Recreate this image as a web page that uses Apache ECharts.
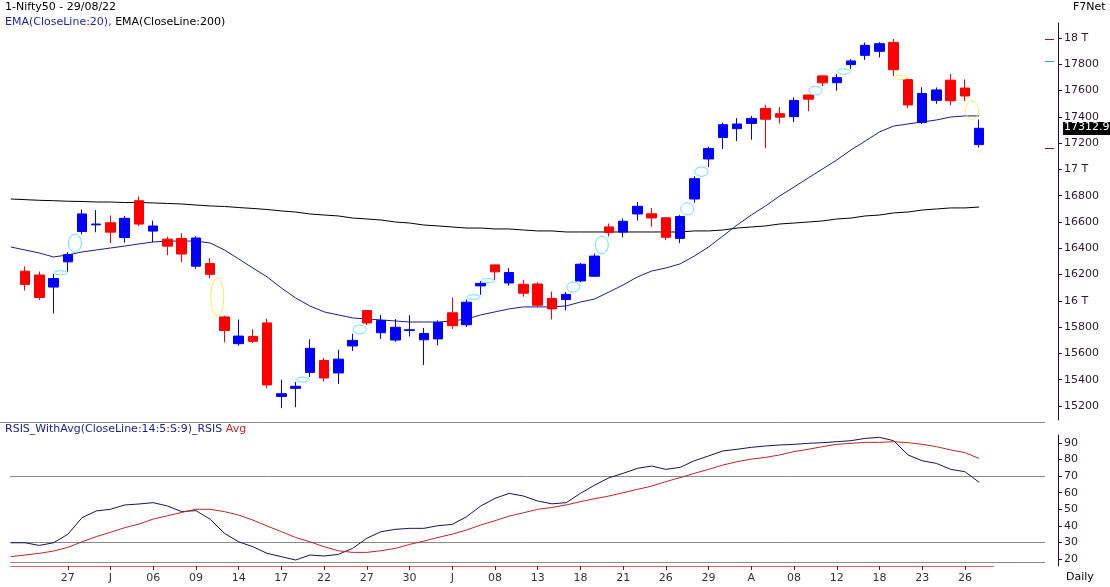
<!DOCTYPE html>
<html><head><meta charset="utf-8">
<script src="https://cdn.jsdelivr.net/npm/echarts@6/dist/echarts.min.js"></script>
<style>html,body{margin:0;padding:0;background:#fff;}#c{width:1110px;height:587px;}</style>
</head><body><div id="c"></div>
<script>
const dates = ['23/05','24/05','25/05','26/05','27/05','30/05','31/05','01/06','02/06','03/06','06/06','07/06','08/06','09/06','10/06','13/06','14/06','15/06','16/06','17/06','20/06','21/06','22/06','23/06','24/06','27/06','28/06','29/06','30/06','01/07','04/07','05/07','06/07','07/07','08/07','11/07','12/07','13/07','14/07','15/07','18/07','19/07','20/07','21/07','22/07','25/07','26/07','27/07','28/07','29/07','01/08','02/08','03/08','04/08','05/08','08/08','10/08','11/08','12/08','16/08','17/08','18/08','19/08','22/08','23/08','24/08','25/08','26/08','29/08',''];
const opens = [null,16225.55,16196.35,16105.0,16296.6,16527.9,16578.45,16594.4,16481.65,16761.65,16530.7,16469.6,16474.95,16263.85,16283.95,15877.55,15674.25,15729.25,15832.25,15272.65,15334.5,15455.95,15545.65,15451.55,15657.1,15926.2,15757.45,15701.7,15774.5,15703.7,15710.5,15909.15,15818.2,16113.75,16273.65,16136.15,16126.2,16128.2,16018.85,16010.0,16151.4,16187.05,16562.8,16523.55,16661.35,16662.55,16632.15,16475.35,16774.85,17079.5,17243.2,17310.15,17350.0,17463.8,17423.65,17401.5,17566.1,17711.65,17659.65,17797.2,17868.15,17898.65,17966.55,17682.9,17357.35,17525.45,17679.0,17619.3,17188.65,null];
const highs = [null,16262.8,16223.35,16204.45,16370.6,16695.5,16690.75,16649.2,16646.4,16793.85,16610.95,16487.25,16514.8,16492.8,16324.7,15886.15,15858.0,15783.65,15863.15,15400.4,15382.5,15707.25,15565.4,15628.0,15749.25,15927.45,15892.1,15861.6,15890.0,15793.95,15852.35,16025.75,16011.35,16150.5,16275.5,16248.55,16158.75,16140.0,16070.9,16066.85,16287.3,16359.75,16588.0,16626.55,16752.25,16706.05,16636.15,16653.5,16947.65,17172.8,17356.25,17390.15,17407.0,17490.7,17474.4,17548.8,17566.1,17719.3,17724.65,17839.1,17965.95,17968.45,17992.2,17690.05,17625.55,17623.65,17726.5,17685.85,17380.15,null];
const lows = [null,16078.6,16006.95,15903.7,16221.95,16506.15,16521.9,16438.85,16443.05,16567.9,16444.55,16347.1,16293.5,16243.85,16172.6,15684.0,15659.45,15678.9,15335.1,15183.4,15191.1,15419.85,15385.95,15367.5,15619.45,15815.5,15710.15,15687.8,15728.6,15511.05,15661.8,15785.45,15800.9,16045.95,16157.9,16115.5,16031.15,15950.15,15858.2,15927.3,16142.1,16187.05,16490.15,16483.9,16610.9,16564.25,16461.9,16438.75,16746.25,17018.15,17154.8,17215.85,17226.0,17161.25,17348.75,17359.75,17442.8,17631.95,17597.85,17764.05,17833.35,17852.05,17710.75,17467.35,17345.2,17499.25,17487.45,17519.35,17166.2,null];
const closes = [null,16125.15,16025.8,16170.15,16352.45,16661.4,16584.55,16522.75,16628.0,16584.3,16569.55,16416.35,16356.25,16478.1,16201.8,15774.4,15732.1,15692.15,15360.6,15293.5,15350.15,15638.8,15413.3,15556.65,15699.25,15832.05,15850.2,15799.1,15780.25,15752.05,15835.35,15810.85,15989.8,16132.9,16220.6,16216.0,16058.3,15966.65,15938.65,16049.2,16278.5,16340.55,16520.85,16605.25,16719.45,16631.0,16483.85,16641.8,16929.6,17158.25,17340.05,17345.45,17388.15,17382.0,17397.5,17525.1,17534.75,17659.0,17698.15,17825.25,17944.25,17956.5,17758.45,17490.7,17577.5,17604.95,17522.45,17558.9,17312.9,null];
const ema20 = [16410,16387,16364,16334,16349,16372,16387,16402,16417,16433,16448,16455,16455,16455,16440,16387,16319,16250,16182,16098,16022,15961,15916,15893,15870,15862,15855,15847,15839,15839,15839,15847,15862,15893,15916,15939,15954,15954,15954,15961,15991,16014,16067,16121,16182,16227,16250,16281,16341,16410,16493,16577,16653,16722,16798,16866,16935,17003,17072,17148,17216,17285,17330,17346,17361,17376,17399,17407,17407,null];
const ema200 = [16775,16770,16765,16762,16758,16756,16752,16752,16748,16748,16745,16741,16737,16729,16722,16718,16710,16703,16695,16684,16676,16661,16653,16646,16630,16623,16615,16600,16592,16577,16570,16562,16554,16554,16547,16547,16539,16532,16532,16524,16524,16524,16524,16524,16524,16524,16524,16524,16532,16532,16539,16554,16562,16570,16585,16592,16600,16608,16623,16630,16646,16653,16669,16676,16691,16699,16707,16707,16714,null];
const rsi = [29.8,29.8,28.2,29.8,34.9,44.9,49,50,52.6,53.2,54,52,48.6,49.2,44,35.5,30.4,27.4,23.4,21.4,19.4,22.4,21.8,22.8,26.4,32.5,36.5,37.9,38.5,38.5,40.1,40.9,45.5,52,56.6,59.6,58,55,53.3,54,59.6,64.6,69,71.7,74.7,76.1,74.1,75.3,79.3,82.2,85.2,86.2,87.4,88.2,88.8,89.2,89.8,90.2,90.8,91.4,92.8,93.4,91.4,82.8,79.3,77.7,74.1,72.7,66.3,null];
const rsiAvg = [21.4,22.4,23.4,24.8,27,30.4,33.5,36.1,38.9,41.1,44.1,46.1,48.1,50,50,48.6,46.5,43.5,39.9,36.5,33,30.4,27.4,25,24,24,25,26.4,28.8,30.8,33,35,37.5,40.5,43.1,45.9,47.9,50,51.1,52.6,54.6,56.4,58,60,62,64,66.7,69.1,71.7,74.1,76.7,78.7,80.3,81.3,82.8,84.8,86.2,87.8,89.2,89.8,90.4,90.4,90.8,90.2,89.2,87.8,85.8,84.2,80.7,null];
const tickDates = ['27/05','01/06','06/06','09/06','14/06','17/06','22/06','27/06','30/06','05/07','08/07','13/07','18/07','21/07','26/07','29/07','03/08','08/08','12/08','18/08','23/08','26/08'];
const tickLabels = ['27','J','06','09','14','17','22','27','30','J','08','13','18','21','26','29','A','08','12','18','23','26'];
const priceTicks = [15200,15400,15600,15800,16000,16200,16400,16600,16800,17000,17200,17400,17600,17800,18000];
const rsiTicks = [20,30,40,50,60,70,80,90];
const rsiLevels = [70,30];
const gapUpDates = ['27/05','30/05','21/06','27/06','07/07','08/07','18/07','20/07','28/07','29/07','11/08','16/08'];
const gapDownDates = ['13/06','22/08','29/08'];
const lastClose = 17312.9;
const sideMarks = [[17992.2,'#8b1a1a'],[17825,'#3a9ac0'],[17166.2,'#8b1a1a']];

const FONT = 'DejaVu Sans';
const chart = echarts.init(document.getElementById('c'));
const candleData = dates.map((d,i)=> opens[i]==null ? '-' : [opens[i], closes[i], lows[i], highs[i]]);
const gapData = [];
gapUpDates.forEach(d=>{const i=dates.indexOf(d); gapData.push([i, highs[i-1], lows[i], 0]);});
gapDownDates.forEach(d=>{const i=dates.indexOf(d); gapData.push([i, highs[i], lows[i-1], 1]);});

const isTick = (idx, val) => tickDates.indexOf(val) >= 0;
const axisCol = '#2e0a2e';

chart.setOption({
  animation: false,
  textStyle: {fontFamily: FONT},
  grid: [
    {left: 10.8, right: 116.6, top: 23, height: 397, outerBoundsMode: 'none', containLabel: false},
    {left: 10.8, right: 116.6, top: 435, height: 131, outerBoundsMode: 'none', containLabel: false}
  ],
  xAxis: [
    {gridIndex: 0, type: 'category', data: dates, boundaryGap: false, show: false},
    {gridIndex: 1, type: 'category', data: dates, boundaryGap: false,
     axisLine: {show: true, lineStyle: {color: '#e06060', width: 1}},
     axisTick: {show: true, interval: isTick, length: 4, lineStyle: {color: '#333'}},
     axisLabel: {show: true, interval: isTick, color: '#333', fontSize: 11, fontFamily: FONT, margin: 7,
       formatter: v => tickLabels[tickDates.indexOf(v)] || ''},
     splitLine: {show: false}}
  ],
  yAxis: [
    {gridIndex: 0, type: 'value', position: 'right', offset: 64.6, min: 15093.5, max: 18114, scale: true,
     axisLine: {show: true, lineStyle: {color: axisCol, width: 1}},
     axisTick: {show: true, length: 4, customValues: priceTicks, lineStyle: {color: axisCol}},
     axisLabel: {show: true, customValues: priceTicks, color: '#2a1a2a', fontSize: 11, fontFamily: FONT, margin: 6,
       formatter: v => (v % 1000 === 0 ? (v/1000) + ' T' : String(v))},
     splitLine: {show: false}},
    {gridIndex: 1, type: 'value', position: 'right', offset: 64.6, min: 15.78, max: 94.83,
     axisLine: {show: true, lineStyle: {color: axisCol, width: 1}},
     axisTick: {show: true, length: 4, customValues: rsiTicks, lineStyle: {color: axisCol}},
     axisLabel: {show: true, customValues: rsiTicks, color: '#2a1a2a', fontSize: 11, fontFamily: FONT, margin: 6},
     splitLine: {show: false}}
  ],
  series: [
    {type: 'line', name: 'EMA200', xAxisIndex: 0, yAxisIndex: 0, data: ema200, symbol: 'none',
     lineStyle: {color: '#000000', width: 1}, silent: true, z: 2},
    {type: 'line', name: 'EMA20', xAxisIndex: 0, yAxisIndex: 0, data: ema20, symbol: 'none',
     lineStyle: {color: '#1c1c8e', width: 1}, silent: true, z: 2},
    {type: 'candlestick', xAxisIndex: 0, yAxisIndex: 0, data: candleData, barWidth: 10,
     itemStyle: {color: '#0000ff', color0: '#ff0000', borderColor: '#0000ff', borderColor0: '#ff0000', borderWidth: 1},
     emphasis: {disabled: true}, silent: true, z: 3},
    {type: 'custom', xAxisIndex: 0, yAxisIndex: 0, data: gapData, encode: {x: 0, y: [1, 2]}, silent: true, z: 4,
     renderItem: function(params, api) {
       const i = api.value(0);
       const a = api.coord([i - 1, api.value(1)]);
       const b = api.coord([i, api.value(2)]);
       const cx = (a[0] + b[0]) / 2, cy = (a[1] + b[1]) / 2;
       const ry = Math.max(Math.abs(a[1] - b[1]) / 2, 2);
       return {type: 'ellipse', shape: {cx: cx, cy: cy, rx: 6.5, ry: ry},
         style: {fill: null, stroke: api.value(3) === 0 ? '#5ee0ee' : '#f0ec50', lineWidth: 1}};
     }},
    {type: 'line', name: 'RSIS', xAxisIndex: 1, yAxisIndex: 1, data: rsi, symbol: 'none',
     lineStyle: {color: '#14145a', width: 1}, silent: true},
    {type: 'line', name: 'Avg', xAxisIndex: 1, yAxisIndex: 1, data: rsiAvg, symbol: 'none',
     lineStyle: {color: '#c42424', width: 1}, silent: true}
  ]
});

const yP = v => chart.convertToPixel({yAxisIndex: 0}, v);
const yR = v => chart.convertToPixel({yAxisIndex: 1}, v);
const g = [];
g.push({type: 'text', left: 5, top: 2, style: {text: '1-Nifty50 - 29/08/22', fill: '#000', font: '11px "DejaVu Sans"'}});
g.push({type: 'text', left: 5, top: 17, style: {text: '{a|EMA(CloseLine:20), }{b|EMA(CloseLine:200)}', font: '11px "DejaVu Sans"',
  rich: {a: {fill: '#1c1cb0', font: '11px "DejaVu Sans"'}, b: {fill: '#000', font: '11px "DejaVu Sans"'}}}});
g.push({type: 'text', left: 1073, top: 2, style: {text: 'F7Net', fill: '#000', font: '11px "DejaVu Sans"'}});
g.push({type: 'text', left: 5, top: 424, style: {text: '{a|RSIS_WithAvg(CloseLine:14:5:S:9)_RSIS }{b|Avg}', font: '11px "DejaVu Sans"',
  rich: {a: {fill: '#1c1c8e', font: '11px "DejaVu Sans"'}, b: {fill: '#d02020', font: '11px "DejaVu Sans"'}}}});
g.push({type: 'text', left: 1066, top: 572, style: {text: 'Daily', fill: '#000', font: '11px "DejaVu Sans"'}});
g.push({type: 'line', shape: {x1: 0, y1: 422.5, x2: 1045, y2: 422.5}, style: {stroke: '#8a8a8a', lineWidth: 1}});
g.push({type: 'line', shape: {x1: 10, y1: 562.5, x2: 1045, y2: 562.5}, style: {stroke: '#8a8a8a', lineWidth: 1}});
rsiLevels.forEach(v => {
  const y = Math.round(yR(v)) + 0.5;
  g.push({type: 'line', shape: {x1: 10, y1: y, x2: 1045, y2: y}, style: {stroke: '#8a8a8a', lineWidth: 1}, z: -1});
});
const ly = yP(lastClose);
g.push({type: 'rect', shape: {x: 1063, y: Math.round(ly) - 6, width: 50, height: 13}, style: {fill: '#000'}});
g.push({type: 'text', left: 1064, top: Math.round(ly) - 6, style: {text: String(lastClose), fill: '#fff', font: '11px "DejaVu Sans"'}});
sideMarks.forEach(m => {
  const y = Math.round(yP(m[0])) + 0.5;
  g.push({type: 'line', shape: {x1: 1045, y1: y, x2: 1054, y2: y}, style: {stroke: m[1], lineWidth: 1}});
});
chart.setOption({graphic: g});
</script>
</body></html>
